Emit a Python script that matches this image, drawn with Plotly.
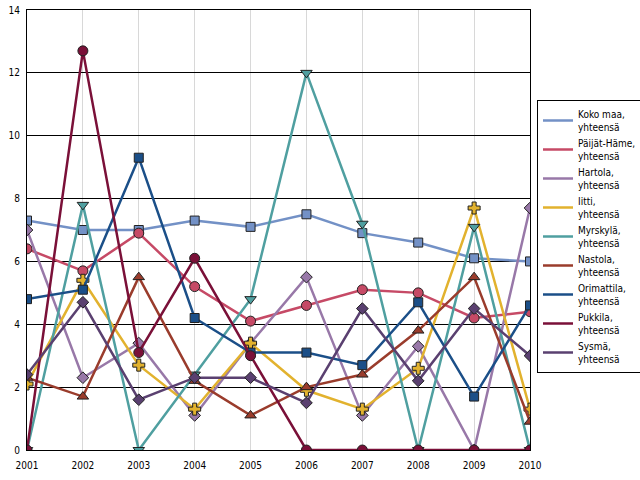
import plotly.graph_objects as go

years = [2001, 2002, 2003, 2004, 2005, 2006, 2007, 2008, 2009, 2010]

names = ["Koko maa,<br>yhteensä", "Päijät-Häme,<br>yhteensä", "Hartola,<br>yhteensä",
         "Iitti,<br>yhteensä", "Myrskylä,<br>yhteensä", "Nastola,<br>yhteensä",
         "Orimattila,<br>yhteensä", "Pukkila,<br>yhteensä", "Sysmä,<br>yhteensä"]

koko_maa = [7.3, 7.0, 7.0, 7.3, 7.1, 7.5, 6.9, 6.6, 6.1, 6.0]
paijat_hame = [6.4, 5.7, 6.9, 5.2, 4.1, 4.6, 5.1, 5.0, 4.2, 4.4]
hartola = [7.0, 2.3, 3.4, 1.1, 3.4, 5.5, 1.1, 3.3, 0.0, 7.7]
iitti = [2.1, 5.4, 2.7, 1.3, 3.4, 1.9, 1.3, 2.6, 7.7, 1.3]
myrskyla = [0.0, 7.8, 0.0, 2.4, 4.8, 12.0, 7.2, 0.0, 7.1, 0.0]
nastola = [2.3, 1.7, 5.5, 2.2, 1.1, 2.0, 2.4, 3.8, 5.5, 0.9]
orimattila = [4.8, 5.1, 9.3, 4.2, 3.1, 3.1, 2.7, 4.7, 1.7, 4.6]
pukkila = [0.0, 12.7, 3.1, 6.1, 3.0, 0.0, 0.0, 0.0, 0.0, 0.0]
sysma = [2.4, 4.7, 1.6, 2.3, 2.3, 1.5, 4.5, 2.2, 4.5, 3.0]

series = [koko_maa, paijat_hame, hartola, iitti, myrskyla, nastola, orimattila, pukkila, sysma]
colors = ["#7391c6", "#c64a66", "#9878a8", "#e2b22e", "#4f9fa0", "#9a3c2c", "#1b4f88", "#7a1038", "#5a4070"]
symbols = ["square", "circle", "diamond", "cross", "triangle-down", "triangle-up", "square", "circle", "diamond"]
sizes = [9, 10, 9, 10, 10, 10, 9, 10, 9]

FONT = "DejaVu Sans Condensed, DejaVu Sans"

fig = go.Figure()
for vals, col, sym, sz in zip(series, colors, symbols, sizes):
    fig.add_trace(go.Scatter(
        x=years, y=vals, mode="lines+markers", showlegend=False, hoverinfo="skip",
        line=dict(color=col, width=2.5),
        marker=dict(symbol=sym, size=sz, color=col,
                    line=dict(color="#222222", width=1)),
    ))
for i, (name, col) in enumerate(zip(names, colors)):
    fig.add_trace(go.Scatter(
        x=[None], y=[None], mode="lines", name=name, legendgroup=f"g{i}",
        line=dict(color=col, width=2.5), hoverinfo="skip",
    ))

fig.update_layout(
    width=640, height=480,
    margin=dict(l=27, r=110, t=10, b=30, autoexpand=False),
    plot_bgcolor="white", paper_bgcolor="white",
    font=dict(family=FONT, size=10, color="#000000"),
    hovermode=False,
    legend=dict(
        xref="container", yref="container",
        x=537 / 640, y=1 - 100 / 480, xanchor="left", yanchor="top",
        bordercolor="#000000", borderwidth=1,
        font=dict(family=FONT, size=10, color="#000000"),
        itemwidth=30, tracegroupgap=0, traceorder="grouped",
        maxheight=400,
    ),
    xaxis=dict(
        range=[2001, 2010], tickvals=years, ticktext=[str(y) for y in years],
        showgrid=True, gridcolor="#d8d8d8", gridwidth=1,
        showline=True, linecolor="#000000", linewidth=1, mirror=True,
        zeroline=False, ticks="", automargin=False, ticklabelstandoff=6,
    ),
    yaxis=dict(
        range=[0, 14], dtick=2,
        showgrid=True, gridcolor="#000000", gridwidth=1,
        showline=True, linecolor="#000000", linewidth=1, mirror=True,
        zeroline=False, ticks="", ticklabelstandoff=4, automargin=False,
    ),
)

fig.write_html("out.html", config={"displayModeBar": False},
               post_script="document.body.style.margin='0px';")
